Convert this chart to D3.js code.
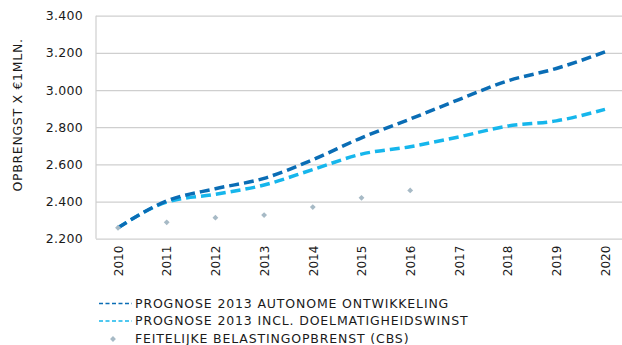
<!DOCTYPE html>
<html>
<head>
<meta charset="utf-8">
<script src="https://cdn.jsdelivr.net/npm/d3@7"></script>
<style>
  html, body { margin: 0; padding: 0; background: #fff; }
  svg { display: block; }
  text { font-family: "DejaVu Sans", sans-serif; fill: #1a1a1a; }
</style>
</head>
<body>
<svg id="chart" width="622" height="345"></svg>
<script>
// Jaren op de x-as
const years = [2010, 2011, 2012, 2013, 2014, 2015, 2016, 2017, 2018, 2019, 2020];
// Prognose 2013, autonome ontwikkeling (x € 1 mln.)
const autonoom = [2259, 2403, 2469, 2525, 2625, 2743, 2844, 2949, 3049, 3116, 3205];
// Prognose 2013 incl. doelmatigheidswinst
const doelmatig = [2259, 2397, 2439, 2489, 2572, 2655, 2695, 2748, 2806, 2834, 2896];
// Feitelijke belastingopbrengst (CBS)
const cbsYears = [2010, 2011, 2012, 2013, 2014, 2015, 2016];
const cbs = [2259, 2288, 2313, 2327, 2370, 2420, 2460];
// Waarden op de y-as
const yTicks = [2200, 2400, 2600, 2800, 3000, 3200, 3400];
const legendLabels = [
  "PROGNOSE 2013 AUTONOME ONTWIKKELING",
  "PROGNOSE 2013 INCL. DOELMATIGHEIDSWINST",
  "FEITELIJKE BELASTINGOPBRENST (CBS)"
];

const colDark = "#0a6db5";
const colLight = "#16b6ec";
const colDot = "#a7bac6";
const colGrid = "#cfcfcf";

const svg = d3.select("#chart");
const plotLeft = 96, plotRight = 622, plotTop = 15.7, plotBottom = 238.7;

const x = d3.scalePoint().domain(years).range([118, 605]);
const y = d3.scaleLinear().domain([2200, 3400]).range([plotBottom, plotTop]);

const fmt = v => d3.format(",")(v).replace(/,/g, ".");

// Rasterlijnen + y-as labels
const yAxis = d3.axisLeft(y).tickValues(yTicks).tickSize(-(plotRight - plotLeft)).tickFormat(fmt).tickPadding(13);
const gy = svg.append("g").attr("transform", `translate(${plotLeft},0)`).call(yAxis);
gy.attr("font-family", null).attr("font-size", null);
gy.select(".domain").remove();
gy.selectAll(".tick line").attr("stroke", colGrid).attr("stroke-width", 1.2);
gy.selectAll(".tick text").style("font-size", "12.5px").style("letter-spacing", "0.3px").attr("fill", "#1a1a1a");

// Verticale as
svg.append("line").attr("x1", plotLeft).attr("x2", plotLeft).attr("y1", plotTop).attr("y2", plotBottom)
  .attr("stroke", colGrid).attr("stroke-width", 1.2);

// x-as labels, verticaal
const xAxis = d3.axisBottom(x).tickSize(0).tickPadding(0);
const gx = svg.append("g").attr("transform", `translate(0,${plotBottom})`).call(xAxis);
gx.attr("font-family", null).attr("font-size", null);
gx.select(".domain").remove();
gx.selectAll(".tick text")
  .style("font-size", "12px").attr("fill", "#1a1a1a")
  .attr("text-anchor", "end").attr("dy", "0.35em")
  .attr("transform", "translate(0,7) rotate(-90)");

// As-titel
svg.append("text")
  .attr("transform", "translate(18,115) rotate(-90)")
  .attr("text-anchor", "middle").attr("dy", "0.35em")
  .style("font-size", "12.5px").style("letter-spacing", "0.7px")
  .text("OPBRENGST X €1MLN.");

// Lijnen
const line = d3.line().x((d, i) => x(years[i])).y(d => y(d)).curve(d3.curveMonotoneX);
svg.append("path").datum(doelmatig).attr("d", line)
  .attr("fill", "none").attr("stroke", colLight).attr("stroke-width", 3.5).attr("stroke-dasharray", "10,5");
svg.append("path").datum(autonoom).attr("d", line)
  .attr("fill", "none").attr("stroke", colDark).attr("stroke-width", 3.5).attr("stroke-dasharray", "10,5");

// CBS-punten (gedraaid vierkantje)
const marker = d3.symbol().type(d3.symbolSquare).size(17);
svg.selectAll(".cbs").data(cbs).enter().append("path")
  .attr("class", "cbs")
  .attr("d", marker)
  .attr("transform", (d, i) => `translate(${x(cbsYears[i])},${y(d)}) rotate(45)`)
  .attr("fill", colDot);

// Legenda
const legY = [303.5, 321, 339];
const lg = svg.append("g");
[colDark, colLight].forEach((c, i) => {
  lg.append("line").attr("x1", 99).attr("x2", 132).attr("y1", legY[i]).attr("y2", legY[i])
    .attr("stroke", c).attr("stroke-width", 1.6).attr("stroke-dasharray", "4,2.5");
});
lg.append("path").attr("d", marker).attr("transform", `translate(113,${legY[2]}) rotate(45)`).attr("fill", colDot);
legendLabels.forEach((t, i) => {
  lg.append("text").attr("x", 135).attr("y", legY[i]).attr("dy", "0.35em")
    .style("font-size", "12.5px").style("letter-spacing", "0.85px").text(t);
});
</script>
</body>
</html>
